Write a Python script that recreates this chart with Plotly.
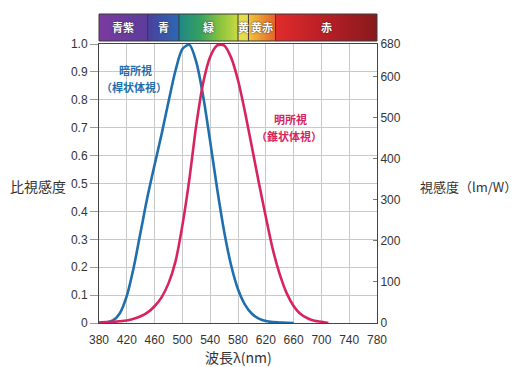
import plotly.graph_objects as go

# wavelength (nm) and relative luminous efficiency
wl_scotopic = [380, 390, 400, 410, 420, 430, 440, 450, 460, 470, 480, 490, 500, 510,
               520, 530, 540, 550, 560, 570, 580, 590, 600, 610, 620, 630, 640, 650, 660]
v_scotopic = [0.001, 0.002, 0.009, 0.035, 0.097, 0.200, 0.328, 0.455, 0.567, 0.676,
              0.793, 0.904, 0.982, 0.997, 0.935, 0.811, 0.650, 0.481, 0.329, 0.208,
              0.121, 0.066, 0.033, 0.016, 0.007, 0.003, 0.002, 0.001, 0.0]

wl_photopic = [380, 390, 400, 410, 420, 430, 440, 450, 460, 470, 480, 490, 500, 510,
               520, 530, 540, 550, 560, 570, 580, 590, 600, 610, 620, 630, 640, 650,
               660, 670, 680, 690, 700, 710]
v_photopic = [0.002, 0.003, 0.004, 0.006, 0.009, 0.015, 0.024, 0.038, 0.060, 0.092,
              0.142, 0.220, 0.350, 0.515, 0.710, 0.862, 0.954, 0.995, 0.995, 0.952,
              0.870, 0.757, 0.631, 0.503, 0.381, 0.265, 0.175, 0.107, 0.061, 0.032,
              0.017, 0.008, 0.004, 0.0]

# colour band names and their edges (nm)
band_names = ["青紫", "青", "緑", "黄", "黄赤", "赤"]
band_edges = [380, 450, 495, 580, 595, 634, 780]

x_ticks = list(range(380, 781, 40))
left_ticks = [i / 10 for i in range(11)]
left_ticktext = ["0"] + ["%.1f" % v for v in left_ticks[1:]]
right_ticks = [0, 100, 200, 300, 400, 500, 600, 680]

BLUE = "#1f6fae"
PINK = "#d8245e"
FONT = "Liberation Sans, Noto Sans CJK JP, sans-serif"
JP = "Noto Sans CJK JP, sans-serif"


def norm(w):
    return (w - 380) / 400


spectrum = [
    (380, "#7c3a9f"), (450, "#5b3d9c"),
    (450, "#4b3f9f"), (495, "#2a6ab2"),
    (495, "#1f8787"), (525, "#35a060"), (555, "#8cc43e"), (580, "#c9da42"),
    (580, "#e4df4c"), (595, "#e8da48"),
    (595, "#f2c43a"), (634, "#e4602a"),
    (634, "#e02c2c"), (700, "#bb1f26"), (780, "#861a1d"),
]
colorscale = [[norm(w), c] for w, c in spectrum]
bar_x = list(range(380, 781))

fig = go.Figure()

fig.add_trace(go.Heatmap(
    x=bar_x, y=[0], z=[bar_x], colorscale=colorscale, zmin=380, zmax=780,
    showscale=False, hoverinfo="skip", xaxis="x2", yaxis="y3",
))

fig.add_trace(go.Scatter(
    x=wl_scotopic, y=v_scotopic, mode="lines",
    line=dict(color=BLUE, width=2.6, shape="spline", smoothing=0.8),
    showlegend=False,
))
fig.add_trace(go.Scatter(
    x=wl_photopic, y=v_photopic, mode="lines",
    line=dict(color=PINK, width=2.6, shape="spline", smoothing=0.8),
    showlegend=False,
))
# invisible trace so the right axis is drawn
fig.add_trace(go.Scatter(x=[380], y=[0], yaxis="y2", mode="markers",
                         marker=dict(opacity=0), showlegend=False, hoverinfo="skip"))

shapes = []
for e in band_edges[1:-1]:
    shapes.append(dict(type="line", xref="x2", yref="y3 domain", x0=e, x1=e, y0=0, y1=1,
                       line=dict(color="#3a3a3a", width=1)))
shapes.append(dict(type="rect", xref="x2 domain", yref="y3 domain", x0=0, x1=1, y0=0, y1=1,
                   line=dict(color="#3a3a3a", width=1)))

annotations = []
for name, a, b in zip(band_names, band_edges[:-1], band_edges[1:]):
    annotations.append(dict(
        x=(a + b) / 2, y=0.5, xref="x2", yref="y3 domain", text=name, showarrow=False,
        xanchor="center", yanchor="middle",
        font=dict(family=JP, size=11, color="white", weight="bold",
                  shadow="0px 0px 2px #222"),
    ))

# free labels, given in page pixels
blue_font = dict(family=JP, size=11, color=BLUE, weight="bold")
pink_font = dict(family=JP, size=11, color=PINK, weight="bold")
annotations += [
    dict(x=135, y=70, xref="paper", yref="paper", text="暗所視",
         showarrow=False, font=blue_font),
    dict(x=134, y=87, xref="paper", yref="paper", text="（桿状体視）",
         showarrow=False, font=blue_font),
    dict(x=290, y=119, xref="paper", yref="paper", text="明所視",
         showarrow=False, font=pink_font),
    dict(x=289, y=136, xref="paper", yref="paper", text="（錐状体視）",
         showarrow=False, font=pink_font),
    dict(x=38, y=186, xref="paper", yref="paper", text="比視感度",
         showarrow=False, font=dict(family=JP, size=14, color="#333")),
    dict(x=468, y=186, xref="paper", yref="paper", text="視感度（lm/W）",
         showarrow=False, font=dict(family=JP, size=13, color="#333")),
    dict(x=238, y=357, xref="paper", yref="paper", text="波長λ(nm)",
         showarrow=False, font=dict(family=JP, size=14, color="#333")),
]

# the page body adds an 8px margin, so the figure is shrunk to fit the window
PAD = 8
W, H = 519 - PAD, 367 - PAD
L, R, T, B = 99 - PAD, 142, 14 - PAD, 44
for a in annotations:
    if a["xref"] == "paper":
        a["x"] = (a["x"] - PAD - L) / (W - L - R)
        a["y"] = 1 - (a["y"] - PAD - T) / (H - T - B)
        a["xanchor"] = "center"
        a["yanchor"] = "middle"

plot_h = H - T - B
main_top = (323 - 44) / plot_h
bar_bottom = (323 - 41) / plot_h

fig.update_layout(
    width=W, height=H,
    margin=dict(l=L, r=R, t=T, b=B, autoexpand=False),
    paper_bgcolor="white", plot_bgcolor="white",
    font=dict(family=FONT, size=12, color="#333"),
    xaxis=dict(
        range=[380, 780], tickvals=x_ticks, showgrid=True, gridcolor="#c9c9c9",
        gridwidth=1, showline=True, linecolor="#444", linewidth=1, mirror=True,
        ticks="", ticklabelstandoff=6, zeroline=False, anchor="y", domain=[0, 1],
        automargin=False,
    ),
    xaxis2=dict(range=[380, 780], visible=False, anchor="y3", domain=[0, 1],
                automargin=False),
    yaxis=dict(
        range=[0, 1], tickvals=left_ticks, ticktext=left_ticktext, showgrid=True,
        gridcolor="#c9c9c9", gridwidth=1, showline=True, linecolor="#444",
        linewidth=1, ticks="outside", ticklen=8, tickcolor="#999",
        zeroline=False, domain=[0, main_top], automargin=False,
    ),
    yaxis2=dict(
        range=[0, 680], tickvals=right_ticks, overlaying="y", side="right",
        showgrid=False, showline=True, linecolor="#444", linewidth=1,
        ticks="inside", ticklen=4, tickcolor="#777", zeroline=False,
        automargin=False,
    ),
    yaxis3=dict(range=[-0.5, 0.5], visible=False, domain=[bar_bottom, 1],
                anchor="x2", automargin=False),
    shapes=shapes,
    annotations=annotations,
)

fig.write_html("out.html")
